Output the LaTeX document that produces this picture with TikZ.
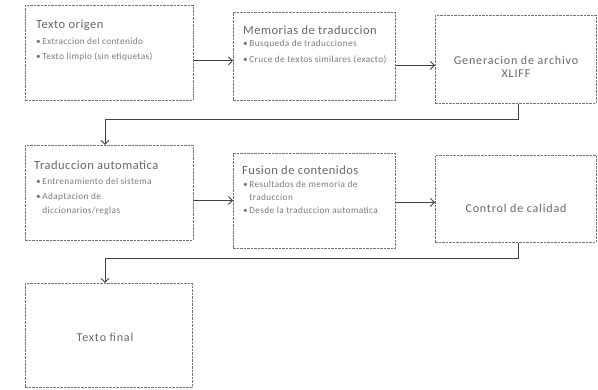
\documentclass[tikz,border=0pt]{standalone}
\usepackage{fontspec}
\setmainfont{Carlito}
\newfontfamily\spc[LetterSpace=4]{Carlito}
\newfontfamily\spcw[LetterSpace=7]{Carlito}
\usetikzlibrary{arrows.meta}
\begin{document}
\begin{tikzpicture}[x=1pt,y=-1pt]
\useasboundingbox (0,0) rectangle (598,390);
\tikzset{
  box/.style={draw=black!55, dash pattern=on 2.5pt off 1pt, line width=0.9pt, rectangle, anchor=north west, inner sep=0pt},
  ttl/.style={anchor=west, inner sep=0pt, text=black!60, font=\spc\fontsize{12.5}{14}\selectfont},
  itm/.style={anchor=north west, inner sep=0pt, text=black!52, font=\spc\fontsize{9.3}{14.5}\selectfont, align=left},
  ctr/.style={inner sep=0pt, text=black!60, font=\spcw\fontsize{12}{13}\selectfont, align=center},
  arr/.style={draw=black!75, line width=0.9pt, -{Straight Barb[length=4pt,width=8pt]}}
}
% boxes
\node[box, minimum width=168, minimum height=95] (b1) at (25,5) {};
\node[box, minimum width=162, minimum height=88] (b2) at (233,12) {};
\node[box, minimum width=161, minimum height=88] (b3) at (435,15) {};
\node[box, minimum width=168, minimum height=95] (b4) at (25,145) {};
\node[box, minimum width=162, minimum height=95] (b5) at (233,153) {};
\node[box, minimum width=161, minimum height=87] (b6) at (435,155) {};
\node[box, minimum width=167, minimum height=104] (b7) at (25,283) {};
% texts
\node[ttl] (t1) at (36,25) {Texto origen};
\node[itm] (i1) at (36,38) {\textbullet\,Extraccion del contenido\\\textbullet\,Texto limpio (sin etiquetas)};
\node[ttl] (t2) at (243,30) {Memorias de traduccion};
\node[itm, font=\spc\fontsize{9.3}{16}\selectfont] (i2) at (243,40) {\textbullet\,Busqueda de traducciones\\\textbullet\,Cruce de textos similares (exacto)};
\node[ctr] (c3) at (516,67) {Generacion de archivo\\XLIFF};
\node[ttl] (t4) at (34,165) {Traduccion automatica};
\node[itm] (i4) at (36,178) {\textbullet\,Entrenamiento del sistema\\\textbullet\,Adaptacion de\\\phantom{\textbullet\,}diccionarios/reglas};
\node[ttl] (t5) at (242,170) {Fusion de contenidos};
\node[itm, font=\spc\fontsize{9.3}{13}\selectfont] (i5) at (243,181) {\textbullet\,Resultados de memoria de\\\phantom{\textbullet\,}traduccion\\\textbullet\,Desde la traduccion automatica};
\node[ctr] (c6) at (516,208) {Control de calidad};
\node[ctr] (c7) at (105,337) {Texto final};
% connectors
\coordinate (a1) at ([yshift=-8]b1.east);
\coordinate (a2) at ([yshift=-9]b2.east);
\coordinate (a4) at ([yshift=-7.5]b4.east);
\coordinate (a5) at ([yshift=-1.5]b5.east);
\draw[arr] (a1) -- (b2.west |- a1);
\draw[arr] (a2) -- (b3.west |- a2);
\coordinate (k1) at (518,119);
\coordinate (k2) at (105,119);
\draw[arr] (b3.south -| k1) -- (k1) -- (k2) -- (b4.north -| k2);
\draw[arr] (a4) -- (b5.west |- a4);
\draw[arr] (a5) -- (b6.west |- a5);
\coordinate (k3) at (518,258);
\coordinate (k4) at (105,258);
\draw[arr] (b6.south -| k3) -- (k3) -- (k4) -- (b7.north -| k4);
\end{tikzpicture}
\end{document}
